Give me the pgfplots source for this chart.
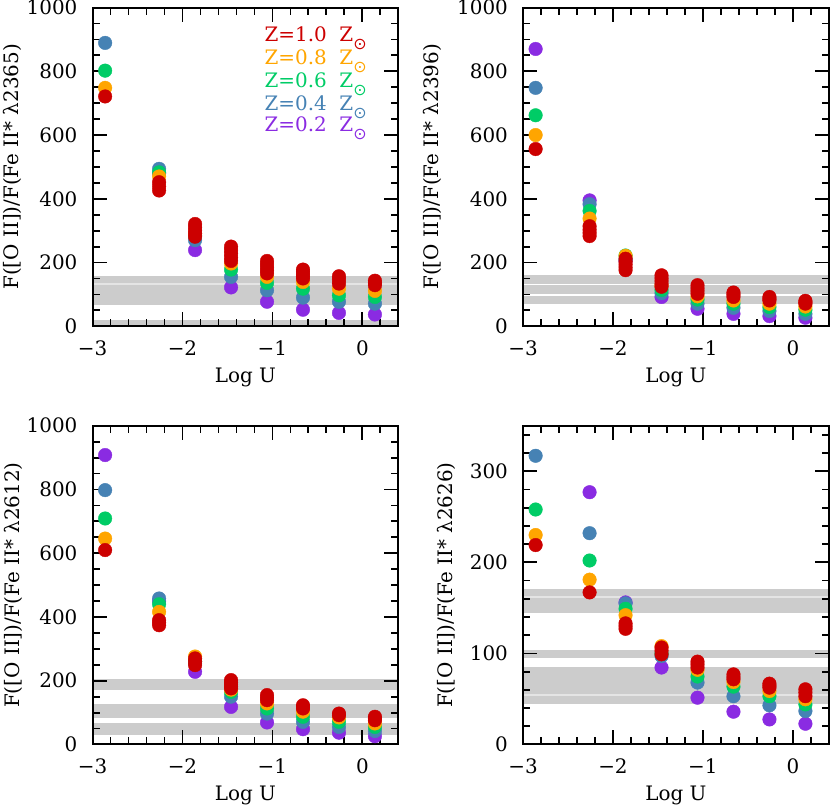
\documentclass[border=0pt]{standalone}
\usepackage{fontspec}
\setmainfont{DejaVu Serif}
\newfontfamily\djs{DejaVu Sans}
\usepackage{pgfplots}
\pgfplotsset{compat=1.18}
\definecolor{zred}{RGB}{204,0,0}
\definecolor{zorange}{RGB}{255,165,0}
\definecolor{zgreen}{RGB}{0,204,102}
\definecolor{zblue}{RGB}{70,130,180}
\definecolor{zpurple}{RGB}{138,43,226}
\definecolor{band}{RGB}{204,204,204}
\definecolor{bandline}{RGB}{228,228,228}
\newcommand{\bigf}{\fontsize{20}{24}\selectfont}
\newcommand{\zsun}{Z\raisebox{-8bp}{\fontsize{16}{16}\djs ⊙}}
\pgfplotsset{
  panel/.style={
    scale only axis, width=306bp, height=319bp,
    xmin=-3, xmax=0.4,
    xtick={-3,-2,-1,0}, xticklabels={−3,−2,−1,0},
    minor xtick={-2.8,-2.6,-2.4,-2.2,-1.8,-1.6,-1.4,-1.2,-0.8,-0.6,-0.4,-0.2,0.2},
    tick align=inside, xtick pos=both, ytick pos=both,
    major tick length=14bp, minor tick length=7bp,
    every tick/.style={black, line width=1.8bp},
    axis line style={line width=2bp},
    tick label style={font=\bigf, inner sep=0pt},
    xticklabel style={yshift=-14bp},
    yticklabel style={xshift=-15bp},
    label style={font=\bigf},
    xlabel={Log U},
    xlabel style={at={(axis description cs:0.5,-0.1755)}, anchor=base},
    set layers,
  },
  big/.style={ymin=0, ymax=1000, ytick={0,200,400,600,800,1000},
    yticklabels={0,200,400,600,800,1000},
    minor ytick={50,100,150,250,300,350,450,500,550,650,700,750,850,900,950}},
  pt/.style={only marks, mark=*, mark size=6.8bp, color=#1, mark options={draw=none, fill=#1}},
  bnd/.style={fill=band, draw=none, on layer=axis background},
  bln/.style={draw=#1, line width=1.8bp, on layer=axis background},
}
\begin{document}
\begin{tikzpicture}
\path (0bp,0bp) rectangle (830bp,-807bp);
% ---------- Panel 1 ----------
\begin{axis}[panel, big, at={(92bp,-7.5bp)}, anchor=north west,
  ylabel={F([O II])/F(Fe II* λ2365)},
  ylabel style={at={(axis description cs:-0.242,0.5)}, anchor=base}]
\addplot[bnd] coordinates {(-3,68) (0.4,68) (0.4,157) (-3,157)};
\addplot[bnd] coordinates {(-3,0) (0.4,0) (0.4,19) (-3,19)};
\addplot[bln=bandline] coordinates {(-3,132) (0.4,132)};
\addplot[pt=zpurple] coordinates {(-2.26,480) (-1.86,239) (-1.46,122) (-1.06,77) (-0.66,52) (-0.26,42) (0.14,37)};
\addplot[pt=zblue] coordinates {(-2.86,889) (-2.26,494) (-1.86,270) (-1.46,155) (-1.06,113) (-0.66,90) (-0.26,77) (0.14,71)};
\addplot[pt=zgreen] coordinates {(-2.86,802) (-2.26,483) (-1.86,285) (-1.46,178) (-1.06,136) (-0.66,118) (-0.26,97) (0.14,92)};
\addplot[pt=zorange] coordinates {(-2.86,748) (-2.26,470) (-1.86,290) (-1.46,197) (-1.06,155) (-0.66,139) (-0.26,118) (0.14,111)};
\addplot[pt=zred] coordinates {(-2.86,721) (-2.26,452) (-2.26,439) (-2.26,426) (-1.86,321) (-1.86,311) (-1.86,301) (-1.86,291) (-1.86,281) (-1.46,250) (-1.46,239) (-1.46,228) (-1.46,216) (-1.46,205) (-1.06,205) (-1.06,195) (-1.06,185) (-1.06,175) (-1.06,166) (-0.66,178) (-0.66,171) (-0.66,164) (-0.66,157) (-0.66,150) (-0.26,157) (-0.26,146) (-0.26,134) (0.14,143) (0.14,136) (0.14,129)};
\node[anchor=base west, font=\bigf, text=zred, inner sep=0pt] at (rel axis cs:0.562,0.892) {Z=1.0\ \ \zsun};
\node[anchor=base west, font=\bigf, text=zorange, inner sep=0pt] at (rel axis cs:0.562,0.820) {Z=0.8\ \ \zsun};
\node[anchor=base west, font=\bigf, text=zgreen, inner sep=0pt] at (rel axis cs:0.562,0.750) {Z=0.6\ \ \zsun};
\node[anchor=base west, font=\bigf, text=zblue, inner sep=0pt] at (rel axis cs:0.562,0.677) {Z=0.4\ \ \zsun};
\node[anchor=base west, font=\bigf, text=zpurple, inner sep=0pt] at (rel axis cs:0.562,0.610) {Z=0.2\ \ \zsun};
\end{axis}
% ---------- Panel 2 ----------
\begin{axis}[panel, big, at={(522.8bp,-7.5bp)}, anchor=north west,
  ylabel={F([O II])/F(Fe II* λ2396)},
  ylabel style={at={(axis description cs:-0.278,0.5)}, anchor=base}]
\addplot[bnd] coordinates {(-3,71) (0.4,71) (0.4,160) (-3,160)};
\addplot[bln=white] coordinates {(-3,131) (0.4,131)};
\addplot[bln=white] coordinates {(-3,97) (0.4,97)};
\addplot[pt=zpurple] coordinates {(-2.86,870) (-2.26,395) (-1.86,205) (-1.46,92) (-1.06,55) (-0.66,39) (-0.26,32) (0.14,27)};
\addplot[pt=zblue] coordinates {(-2.86,748) (-2.26,383) (-1.86,210) (-1.46,104) (-1.06,71) (-0.66,58) (-0.26,48) (0.14,39)};
\addplot[pt=zgreen] coordinates {(-2.86,662) (-2.26,362) (-1.86,222) (-1.46,114) (-1.06,84) (-0.66,71) (-0.26,60) (0.14,52)};
\addplot[pt=zorange] coordinates {(-2.86,600) (-2.26,338) (-1.86,221) (-1.46,128) (-1.06,94) (-0.66,81) (-0.26,71) (0.14,62)};
\addplot[pt=zred] coordinates {(-2.86,556) (-2.26,314) (-2.26,303) (-2.26,293) (-2.26,283) (-1.86,212) (-1.86,203) (-1.86,194) (-1.86,185) (-1.86,176) (-1.46,160) (-1.46,151) (-1.46,142) (-1.46,133) (-1.46,124) (-1.06,129) (-1.06,120) (-1.06,111) (-1.06,102) (-0.66,106) (-0.66,99) (-0.66,92) (-0.26,92) (-0.26,86) (-0.26,81) (0.14,80) (0.14,75) (0.14,71)};
\end{axis}
% ---------- Panel 3 ----------
\begin{axis}[panel, big, at={(92bp,-426bp)}, anchor=north west,
  ylabel={F([O II])/F(Fe II* λ2612)},
  ylabel style={at={(axis description cs:-0.239,0.5)}, anchor=base}]
\addplot[bnd] coordinates {(-3,170) (0.4,170) (0.4,204) (-3,204)};
\addplot[bnd] coordinates {(-3,84) (0.4,84) (0.4,128) (-3,128)};
\addplot[bnd] coordinates {(-3,29) (0.4,29) (0.4,68) (-3,68)};
\addplot[pt=zpurple] coordinates {(-2.86,908) (-2.26,450) (-1.86,228) (-1.46,118) (-1.06,69) (-0.66,48) (-0.26,37) (0.14,26)};
\addplot[pt=zblue] coordinates {(-2.86,798) (-2.26,458) (-1.86,255) (-1.46,150) (-1.06,97) (-0.66,71) (-0.26,55) (0.14,42)};
\addplot[pt=zgreen] coordinates {(-2.86,709) (-2.26,440) (-1.86,260) (-1.46,165) (-1.06,113) (-0.66,87) (-0.26,71) (0.14,55)};
\addplot[pt=zorange] coordinates {(-2.86,646) (-2.26,416) (-1.86,276) (-1.46,172) (-1.06,129) (-0.66,103) (-0.26,85) (0.14,66)};
\addplot[pt=zred] coordinates {(-2.86,610) (-2.26,390) (-2.26,382) (-2.26,374) (-1.86,270) (-1.86,260) (-1.86,249) (-1.46,202) (-1.46,195) (-1.46,189) (-1.46,182) (-1.46,176) (-1.06,155) (-1.06,147) (-1.06,139) (-0.66,123) (-0.66,118) (-0.66,113) (-0.26,97) (-0.26,92) (0.14,87) (0.14,81) (0.14,76)};
\end{axis}
% ---------- Panel 4 ----------
\begin{axis}[panel, at={(522.8bp,-426bp)}, anchor=north west,
  ymin=0, ymax=350, ytick={0,100,200,300}, yticklabels={0,100,200,300},
  minor ytick={20,40,60,80,120,140,160,180,220,240,260,280,320,340},
  ylabel={F([O II])/F(Fe II* λ2626)},
  ylabel style={at={(axis description cs:-0.232,0.5)}, anchor=base}]
\addplot[bnd] coordinates {(-3,144) (0.4,144) (0.4,171) (-3,171)};
\addplot[bnd] coordinates {(-3,94.7) (0.4,94.7) (0.4,104) (-3,104)};
\addplot[bnd] coordinates {(-3,44.8) (0.4,44.8) (0.4,85.6) (-3,85.6)};
\addplot[bln=bandline] coordinates {(-3,162) (0.4,162)};
\addplot[bln=bandline] coordinates {(-3,54.7) (0.4,54.7)};
\addplot[pt=zpurple] coordinates {(-2.26,277) (-1.86,156) (-1.46,84.5) (-1.06,51.4) (-0.66,36) (-0.26,27.5) (0.14,22.8)};
\addplot[pt=zblue] coordinates {(-2.86,317) (-2.26,232) (-1.86,155) (-1.46,97) (-1.06,68) (-0.66,53) (-0.26,43) (0.14,36.7)};
\addplot[pt=zgreen] coordinates {(-2.86,258) (-2.26,202) (-1.86,149) (-1.46,100) (-1.06,74.6) (-0.66,63.5) (-0.26,53) (0.14,44)};
\addplot[pt=zorange] coordinates {(-2.86,230) (-2.26,181) (-1.86,142) (-1.46,108) (-1.06,82) (-0.66,68.6) (-0.26,58.7) (0.14,49.6)};
\addplot[pt=zred] coordinates {(-2.86,219) (-2.26,167) (-1.86,133) (-1.86,130) (-1.86,127) (-1.46,106.5) (-1.46,103) (-1.46,99) (-1.06,91) (-1.06,88) (-1.06,84.5) (-0.66,77) (-0.66,74) (-0.66,71.6) (-0.26,66.8) (-0.26,64.5) (-0.26,62.4) (0.14,60.6) (0.14,57) (0.14,53)};
\end{axis}
\end{tikzpicture}
\end{document}
